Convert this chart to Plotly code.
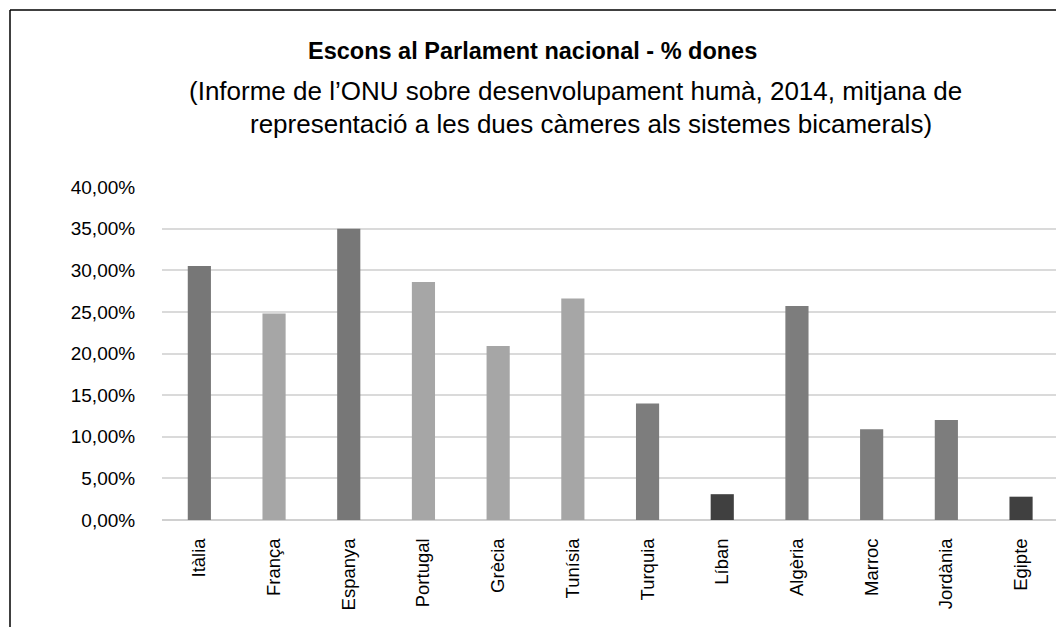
import plotly.graph_objects as go

# data
paisos = ["Itàlia", "França", "Espanya", "Portugal", "Grècia", "Tunísia",
          "Turquia", "Líban", "Algèria", "Marroc", "Jordània", "Egipte"]
dones = [0.305, 0.248, 0.350, 0.286, 0.209, 0.266,
         0.140, 0.031, 0.257, 0.109, 0.120, 0.028]
colors = ["#777777", "#a6a6a6", "#777777", "#a6a6a6", "#a6a6a6", "#a6a6a6",
          "#7d7d7d", "#404040", "#7d7d7d", "#7d7d7d", "#7d7d7d", "#404040"]
y_ticks = [0, 0.05, 0.10, 0.15, 0.20, 0.25, 0.30, 0.35, 0.40]

W, H = 1064, 627
OFF = 8  # page body margin, screen coords -> figure coords
L, T = 162 - OFF, 187 - OFF
R = W - (1064 - OFF)
B = H - (520 - OFF)
pw, ph = W - L - R, H - T - B

def px(x):
    return (x - OFF - L) / pw

def py(y):
    return 1 - (y - OFF - T) / ph

fig = go.Figure()
fig.add_trace(go.Bar(x=paisos, y=dones, marker_color=colors, marker_line_width=0,
                     width=0.31, showlegend=False))

font_main = "Liberation Sans, Arial, sans-serif"

fig.update_layout(
    width=W, height=H,
    margin=dict(l=L, r=R, t=T, b=B),
    paper_bgcolor="white", plot_bgcolor="white",
    separators=",.",
    font=dict(family=font_main, color="black", size=15),
)
fig.update_yaxes(range=[0, 0.4], tickvals=y_ticks, tickformat=".2%",
                 showgrid=True, gridcolor="#dadada", gridwidth=1.5,
                 zeroline=True, zerolinecolor="#d0d0d0", zerolinewidth=2,
                 ticks="outside", ticklen=22, tickcolor="rgba(0,0,0,0)",
                 tickfont=dict(size=19), fixedrange=True)
fig.update_xaxes(range=[-0.5, -0.5 + pw / 74.7], tickangle=-90,
                 ticks="outside", ticklen=10, tickcolor="rgba(0,0,0,0)",
                 showline=False, tickfont=dict(size=18.5), fixedrange=True)

# title and subtitle lines
fig.add_annotation(text="<b>Escons al Parlament nacional - % dones</b>",
                   x=px(532), y=py(51), xref="paper", yref="paper",
                   showarrow=False, font=dict(size=23.5), xanchor="center", yanchor="middle")
fig.add_annotation(text="(Informe de l’ONU sobre desenvolupament humà, 2014, mitjana de",
                   x=px(575), y=py(91), xref="paper", yref="paper",
                   showarrow=False, font=dict(size=26), xanchor="center", yanchor="middle")
fig.add_annotation(text="representació a les dues càmeres als sistemes bicamerals)",
                   x=px(591), y=py(124), xref="paper", yref="paper",
                   showarrow=False, font=dict(size=26), xanchor="center", yanchor="middle")

# frame around the chart (left and top edges visible)
fig.add_shape(type="line", xref="paper", yref="paper",
              x0=px(10), x1=px(10), y0=py(H + 20), y1=py(10),
              line=dict(color="black", width=1.5))
fig.add_shape(type="line", xref="paper", yref="paper",
              x0=px(10), x1=px(W + 20), y0=py(10), y1=py(10),
              line=dict(color="black", width=1.5))

fig.write_html("out.html")
